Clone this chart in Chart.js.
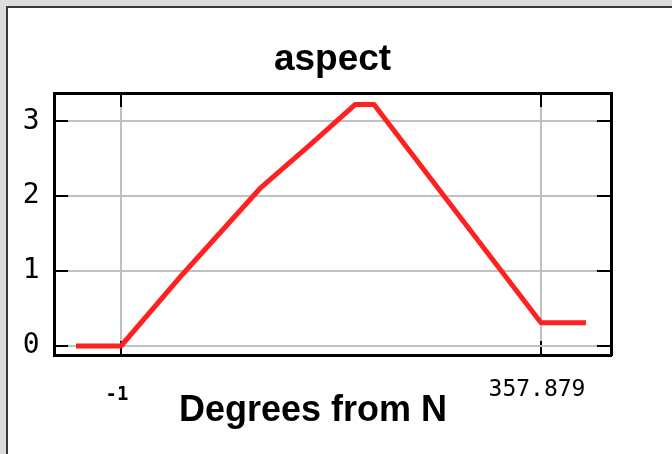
<!DOCTYPE html>
<html><head><meta charset="utf-8">
<script src="https://cdn.jsdelivr.net/npm/chart.js@4.4.1/dist/chart.umd.min.js"></script>
<style>
html,body{margin:0;padding:0;background:#dcdcdc;width:672px;height:454px;overflow:hidden;}
#panel{position:absolute;left:6px;top:6px;width:700px;height:500px;background:#fff;border-left:2px solid #3a3a3a;border-top:2px solid #3a3a3a;}
#c{position:absolute;left:0;top:0;}
</style></head><body>
<div id="panel"></div>
<canvas id="c" width="672" height="454"></canvas>
<script>
const chartTitle = 'aspect';
const xAxisTitle = 'Degrees from N';
const xValues = [-39.5, -1, 51.1, 117.8, 160.5, 199.0, 215.2, 357.879, 396.3];
const yValues = [0, 0, 0.948, 2.103, 2.684, 3.224, 3.224, 0.311, 0.311];
const xTickValues = [-1, 357.879];
const xTickLabels = ['-1', '357.879'];
const yTickValues = [0, 1, 2, 3];
const yTickLabels = ['0', '1', '2', '3'];

const GRAY = '#c0c0c0';
const TICK = 14;
function grad(chart, horizontal) {
  const a = chart.chartArea;
  if (!a) return GRAY;
  const g = horizontal
    ? chart.ctx.createLinearGradient(a.left, 0, a.right, 0)
    : chart.ctx.createLinearGradient(0, a.top, 0, a.bottom);
  const len = horizontal ? (a.right - a.left) : (a.bottom - a.top);
  const t = TICK / len;
  g.addColorStop(0, '#000'); g.addColorStop(t, '#000');
  g.addColorStop(t, GRAY); g.addColorStop(1 - t, GRAY);
  g.addColorStop(1 - t, '#000'); g.addColorStop(1, '#000');
  return g;
}
const SANS = '"Liberation Sans", Arial, sans-serif';
const MONO = '"DejaVu Sans Mono", monospace';

new Chart(document.getElementById('c'), {
  type: 'line',
  data: {
    datasets: [{
      data: xValues.map((x, i) => ({x: x, y: yValues[i]})),
      borderColor: 'rgb(255,32,32)',
      borderWidth: 5,
      pointRadius: 0,
      fill: false,
      tension: 0,
      borderJoinStyle: 'round',
      xAxisID: 'x',
      yAxisID: 'y'
    }]
  },
  options: {
    responsive: false,
    animation: false,
    devicePixelRatio: 1,
    layout: {padding: {left: 15, right: 61, top: 0, bottom: 0}},
    plugins: {
      legend: {display: false},
      tooltip: {enabled: false},
      title: {
        display: true, text: chartTitle, position: 'top', fullSize: false,
        color: '#000',
        font: {family: SANS, size: 37, weight: 'bold', lineHeight: '43.2px'},
        padding: {top: 38.4, bottom: 11.4}
      },
      subtitle: {
        display: true, text: xAxisTitle, position: 'bottom', fullSize: true,
        color: '#000',
        font: {family: SANS, size: 36, weight: 'bold', lineHeight: '6px'},
        padding: {top: 1, bottom: 39.5}
      }
    },
    scales: {
      x: {
        type: 'linear', position: 'bottom', min: -58.25, max: 417.69,
        afterBuildTicks: s => { s.ticks = xTickValues.map(v => ({value: v})); },
        afterFit: s => { s.height = 52; },
        grid: {color: c => grad(c.chart, false), lineWidth: 2, drawTicks: false},
        border: {display: true, color: '#000', width: 3},
        ticks: {
          autoSkip: false, maxRotation: 0, padding: 20, labelOffset: -4, color: '#000',
          callback: (v, i) => xTickLabels[i],
          font: c => c.index === 0
            ? {family: MONO, size: 19, weight: 'bold', lineHeight: '39px'}
            : {family: MONO, size: 23, weight: 'normal', lineHeight: '29px'}
        }
      },
      y: {
        type: 'linear', position: 'left', min: -0.1268, max: 3.3778,
        afterBuildTicks: s => { s.ticks = yTickValues.map(v => ({value: v})); },
        afterFit: s => { s.width = 39; },
        grid: {color: c => grad(c.chart, true), lineWidth: 2, drawTicks: false},
        border: {display: true, color: '#000', width: 3},
        ticks: {
          padding: 14.5, color: '#000',
          callback: (v, i) => yTickLabels[i],
          font: {family: MONO, size: 28, weight: 'normal'}
        }
      },
      x2: {
        type: 'linear', axis: 'x', position: 'top', display: true,
        afterFit: s => { s.height = 0; },
        grid: {display: false, drawTicks: false},
        ticks: {display: false},
        border: {display: true, color: '#000', width: 3}
      },
      y2: {
        type: 'linear', axis: 'y', position: 'right', display: true,
        afterFit: s => { s.width = 0; },
        grid: {display: false, drawTicks: false},
        ticks: {display: false},
        border: {display: true, color: '#000', width: 3}
      }
    }
  }
});
</script>
</body></html>
